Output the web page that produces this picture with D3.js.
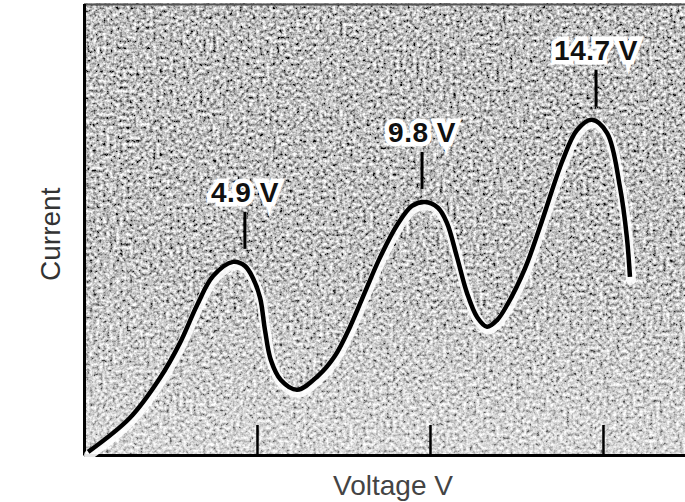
<!DOCTYPE html>
<html>
<head>
<meta charset="utf-8">
<script src="https://cdn.jsdelivr.net/npm/d3@7"></script>
<style>
  html, body { margin: 0; padding: 0; background: #fff; }
  svg { display: block; font-family: "Liberation Sans", Arial, sans-serif; }
</style>
</head>
<body>
<svg id="chart"></svg>
<script>
// accelerating voltage (V) and collector current (arbitrary units)
const voltage = [0.12, 1.33, 2.2, 2.77, 3.27, 3.73, 4.31, 4.65, 4.88, 5.09, 5.23, 5.4, 5.69,
  6.16, 6.76, 7.25, 7.69, 8.12, 8.55, 9.05, 9.48, 9.86, 10.23, 10.49, 10.78, 11.07, 11.36,
  11.65, 11.94, 12.23, 12.75, 13.18, 13.84, 14.25, 14.68, 15.12, 15.49, 15.69, 15.78];
const current = [0, 7.7, 16.7, 24.5, 33.1, 39.6, 42.8, 41.9, 39.2, 34.7, 27.5, 20.7, 16.2,
  14.0, 17.1, 21.6, 28.2, 36.0, 43.7, 51.1, 55.4, 56.3, 55.0, 51.6, 43.9, 35.8, 30.4,
  28.2, 29.7, 33.1, 41.4, 50.7, 65.8, 72.5, 74.8, 71.8, 59.7, 48.4, 39.4];

const peakLabels = ['4.9 V', '9.8 V', '14.7 V'];
const peakVoltage = [4.65, 9.77, 14.8];
const peakCurrent = [42.8, 56.3, 74.8];

const xTicks = [5, 10, 15];

const width = 685;
const height = 502;

const svg = d3.select('#chart').attr('width', width).attr('height', height);

const x = d3.scaleLinear().domain([0, 17.4]).range([84, 686]);
const y = d3.scaleLinear().domain([-0.7, 101]).range([455, 3.5]);

const defs = svg.append('defs');

// grainy grey of the scanned plate
const grain = defs.append('filter').attr('id', 'grain')
  .attr('x', 0).attr('y', 0).attr('width', 1).attr('height', 1);
grain.append('feTurbulence')
  .attr('type', 'fractalNoise')
  .attr('baseFrequency', 0.3)
  .attr('numOctaves', 3)
  .attr('seed', 11);
grain.append('feColorMatrix')
  .attr('type', 'matrix')
  .attr('values', '1.8 0 0 0 -0.38  1.8 0 0 0 -0.38  1.8 0 0 0 -0.38  0 0 0 0 1');

const fade = defs.append('linearGradient').attr('id', 'fade')
  .attr('x1', 0).attr('y1', 0).attr('x2', 0).attr('y2', 1);
fade.append('stop').attr('offset', '0%').attr('stop-color', '#fff').attr('stop-opacity', 0);
fade.append('stop').attr('offset', '55%').attr('stop-color', '#fff').attr('stop-opacity', 0.05);
fade.append('stop').attr('offset', '100%').attr('stop-color', '#fff').attr('stop-opacity', 0.4);

const [x0, x1] = x.range();
const [yb, yt] = y.range();

svg.append('rect')
  .attr('x', x0).attr('y', yt)
  .attr('width', x1 - x0).attr('height', yb - yt)
  .attr('filter', 'url(#grain)');
svg.append('rect')
  .attr('x', x0).attr('y', yt)
  .attr('width', x1 - x0).attr('height', yb - yt)
  .attr('fill', 'url(#fade)');
svg.append('line')
  .attr('x1', x0).attr('x2', x1).attr('y1', yt + 1).attr('y2', yt + 1)
  .attr('stroke', '#555').attr('stroke-width', 2);

// bottom axis with inward ticks, no labels
svg.append('g')
  .attr('transform', `translate(0,${yb})`)
  .call(d3.axisBottom(x).tickValues(xTicks).tickSize(-30).tickSizeOuter(0).tickFormat(''))
  .call(g => g.select('.domain').attr('stroke', '#000').attr('stroke-width', 3))
  .call(g => g.selectAll('.tick line').attr('stroke', '#000').attr('stroke-width', 2.5));

svg.append('g')
  .attr('transform', `translate(${x0},0)`)
  .call(d3.axisLeft(y).tickValues([]).tickSizeOuter(0))
  .call(g => g.select('.domain').attr('stroke', '#000').attr('stroke-width', 3));

const line = d3.line()
  .x((d, i) => x(voltage[i]))
  .y(d => y(d))
  .curve(d3.curveCatmullRom.alpha(0.5));

svg.append('path')
  .datum(current)
  .attr('d', line)
  .attr('transform', 'translate(1,3)')
  .attr('fill', 'none')
  .attr('stroke', '#fff')
  .attr('stroke-opacity', 0.9)
  .attr('stroke-width', 10)
  .attr('stroke-linecap', 'round');

svg.append('path')
  .datum(current)
  .attr('d', line)
  .attr('fill', 'none')
  .attr('stroke', '#000')
  .attr('stroke-width', 4.5)
  .attr('stroke-linejoin', 'round');

// peak markers
const marks = svg.append('g')
  .selectAll('g')
  .data(peakLabels)
  .join('g')
  .attr('transform', (d, i) => `translate(${x(peakVoltage[i])},${y(peakCurrent[i]) - 13})`);

marks.append('line')
  .attr('y1', 0).attr('y2', -37)
  .attr('stroke', '#000').attr('stroke-width', 3);

marks.append('text')
  .attr('y', -47)
  .attr('text-anchor', 'middle')
  .attr('font-size', 28)
  .attr('font-weight', 'bold')
  .attr('letter-spacing', 0.5)
  .attr('fill', '#111')
  .attr('stroke', '#fff')
  .attr('stroke-width', 9)
  .attr('stroke-linejoin', 'miter')
  .attr('paint-order', 'stroke')
  .text(d => d);

svg.append('text')
  .attr('x', (x0 + x1) / 2 + 8)
  .attr('y', 495)
  .attr('text-anchor', 'middle')
  .attr('font-size', 28)
  .attr('fill', '#444')
  .text('Voltage V');

svg.append('text')
  .attr('transform', `translate(60,${(yb + yt) / 2 + 5}) rotate(-90)`)
  .attr('text-anchor', 'middle')
  .attr('font-size', 28)
  .attr('fill', '#333')
  .text('Current');
</script>
</body>
</html>
